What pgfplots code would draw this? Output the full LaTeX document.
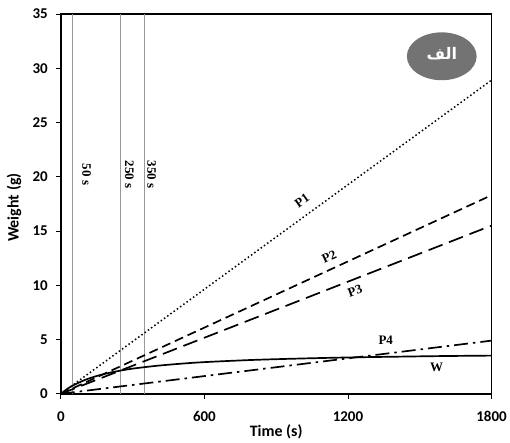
\documentclass[border=0pt]{standalone}
\usepackage{fontspec}
\setmainfont{Carlito}
\newfontfamily\serifb{Liberation Serif}
\newfontfamily\arabicfont[Script=Arabic]{DejaVu Sans}
\TeXXeTstate=1
\usepackage{pgfplots}
\pgfplotsset{compat=1.18}
\begin{document}
\begin{tikzpicture}
\begin{axis}[
  scale only axis, width=432pt, height=381pt,
  xmin=0, xmax=1800, ymin=0, ymax=35, enlargelimits=false,
  xtick={0,600,1200,1800}, ytick={0,5,...,35},
  xtick pos=left, ytick pos=left, tick align=outside,
  major tick length=5pt,
  tick style={black, line width=0.8pt},
  axis line style={line width=1.8pt},
  /pgf/number format/assume math mode=true,
  /pgf/number format/1000 sep={},
  ticklabel style={font=\bfseries\fontsize{15}{15}\selectfont},
  yticklabel style={xshift=-4.5pt},
  xticklabel style={yshift=-9pt},
  xlabel={Time (s)}, ylabel={Weight (g)},
  label style={font=\bfseries\fontsize{16}{16}\selectfont},
  xlabel style={at={(axis description cs:0.5,-0.0997)}, anchor=center},
  ylabel style={at={(axis description cs:-0.1088,0.49)}, anchor=center},
  clip=false,
]
% vertical reference lines
\addplot[gray!80, line width=0.8pt] coordinates {(50,0) (50,35)};
\addplot[gray!80, line width=0.8pt] coordinates {(250,0) (250,35)};
\addplot[gray!80, line width=0.8pt] coordinates {(350,0) (350,35)};
% P1
\addplot[black, line width=1.5pt, dash pattern=on 1.5pt off 2.5pt] coordinates {(0,0) (1800,28.9)};
% P2
\addplot[black, line width=1.7pt, dash pattern=on 9pt off 5pt] coordinates {(0,0) (1800,18.3)};
% P3
\addplot[black, line width=1.7pt, dash pattern=on 15pt off 7pt] coordinates {(0,0) (1800,15.5)};
% P4
\addplot[black, line width=1.7pt, dash pattern=on 14pt off 5pt on 2.5pt off 5pt] coordinates {(0,0) (1800,4.9)};
% W
\addplot[black, line width=1.7pt, smooth] coordinates {
(0,0) (25,0.42) (50,0.76) (100,1.27) (150,1.64) (200,1.92) (250,2.14)
(300,2.32) (400,2.58) (500,2.77) (600,2.92) (800,3.12) (1000,3.25)
(1200,3.35) (1400,3.42) (1600,3.48) (1800,3.52)};
% labels
\node[font=\serifb\bfseries\fontsize{13}{13}\selectfont, rotate=-90] at (axis cs:108,20.2) {50 s};
\node[font=\serifb\bfseries\fontsize{13}{13}\selectfont, rotate=-90] at (axis cs:287,20.2) {250 s};
\node[font=\serifb\bfseries\fontsize{13}{13}\selectfont, rotate=-90] at (axis cs:379,20.2) {350 s};
\node[font=\serifb\bfseries\fontsize{13}{13}\selectfont, rotate=36] at (axis cs:1008,17.8) {P1};
\node[font=\serifb\bfseries\fontsize{13}{13}\selectfont, rotate=25] at (axis cs:1121,12.6) {P2};
\node[font=\serifb\bfseries\fontsize{13}{13}\selectfont, rotate=20] at (axis cs:1229,9.45) {P3};
\node[font=\serifb\bfseries\fontsize{13}{13}\selectfont] at (axis cs:1358,4.9) {P4};
\node[font=\serifb\bfseries\fontsize{13}{13}\selectfont] at (axis cs:1571,2.45) {W};
\fill[black!55] (axis cs:1592,31.1) ellipse [x radius=35pt, y radius=24pt];
\node[text=white, font=\arabicfont\bfseries\fontsize{16}{16}\selectfont] at (axis cs:1592,31.3) {\beginR الف\endR};
\end{axis}
\path[use as bounding box] ([xshift=-61pt,yshift=-48pt]current axis.south west) rectangle ([xshift=17pt,yshift=14pt]current axis.north east);
\end{tikzpicture}
\end{document}
